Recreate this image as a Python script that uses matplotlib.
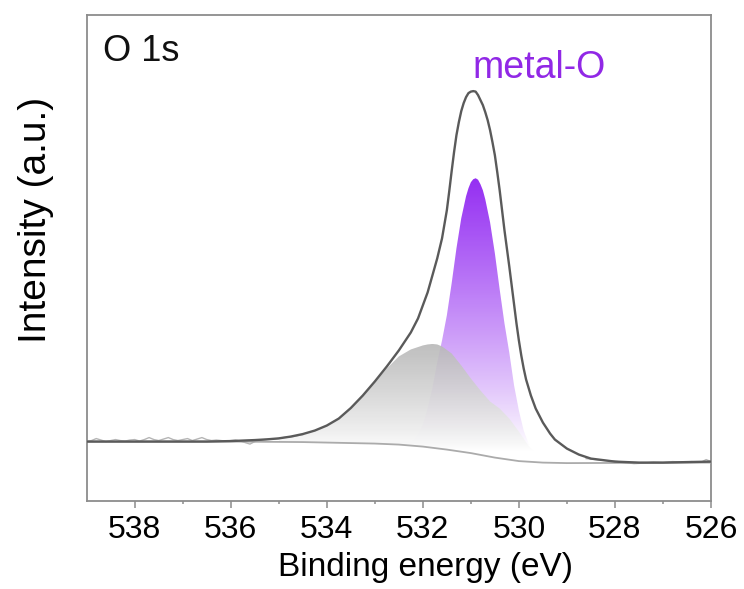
import numpy as np
import matplotlib
matplotlib.use('Agg')
import matplotlib.pyplot as plt
from matplotlib.colors import LinearSegmentedColormap

plt.rcParams['font.family'] = ['Liberation Sans', 'DejaVu Sans']

# fitted envelope
env_E = [539.0, 538.5, 538.0, 537.5, 537.0, 536.5, 536.0, 535.5, 535.25, 535.0,
         534.75, 534.5, 534.25, 534.0, 533.75, 533.5, 533.25, 533.0, 532.75, 532.5,
         532.25, 532.1, 532.0, 531.9, 531.8, 531.7, 531.6, 531.5, 531.45, 531.4,
         531.35, 531.3, 531.25, 531.2, 531.15, 531.1, 531.05, 531.0, 530.95, 530.9,
         530.85, 530.8, 530.75, 530.7, 530.65, 530.6, 530.55, 530.5, 530.45, 530.4,
         530.35, 530.3, 530.25, 530.2, 530.15, 530.1, 530.05, 530.0, 529.95, 529.9,
         529.85, 529.75, 529.65, 529.5, 529.35, 529.25, 529.0, 528.75, 528.5, 528.0,
         527.5, 527.0, 526.5, 526.0]
env_I = [59, 59, 59, 59, 59, 59, 59.5, 60.5, 61.2, 62.2,
         64, 66.5, 70, 75, 82, 92.5, 105, 119, 134, 150,
         168, 182, 195, 208, 225, 242, 262, 290, 309, 329,
         348, 365, 378, 389, 397, 403, 407, 408.5, 409, 408.5,
         405, 400, 395, 388, 380, 370, 358, 345, 328, 310,
         290, 270, 252, 234, 215, 196, 177, 160, 145, 132,
         121, 105, 92, 78, 67, 61, 52, 46, 42, 39,
         38, 38, 38.5, 39]

# metal-O component
mo_E = [532.3, 532.2, 532.1, 532.0, 531.9, 531.8, 531.7, 531.6, 531.5, 531.4,
        531.3, 531.2, 531.1, 531.05, 531.0, 530.95, 530.9, 530.85, 530.8, 530.75,
        530.7, 530.6, 530.5, 530.4, 530.3, 530.2, 530.1, 530.0, 529.9, 529.8,
        529.7, 529.6, 529.5]
mo_I = [56, 60, 66, 76, 92, 113, 138, 160, 185, 217,
        252, 282, 304, 312, 318, 321, 322, 320.5, 316, 310,
        301, 278, 247, 211, 177, 148, 115, 90, 70, 57,
        49, 44, 41]

# second O component
oh_E = [535.0, 534.5, 534.0, 533.75, 533.5, 533.25, 533.0, 532.75, 532.5, 532.25,
        532.0, 531.9, 531.8, 531.7, 531.6, 531.4, 531.2, 531.0, 530.8, 530.6,
        530.4, 530.2, 530.0, 529.8, 529.6, 529.4, 529.2]
oh_I = [61, 66, 74.5, 81.5, 91.5, 104, 118, 132, 144, 151,
        155, 156, 156.5, 156, 154, 147, 135, 122, 110, 99,
        92, 82, 69, 55, 44, 40, 38]

# Shirley background
bg_E = [539.0, 536.0, 534.5, 534.0, 533.5, 533.0, 532.5, 532.0, 531.5, 531.0,
        530.5, 530.0, 529.5, 529.0, 526.0]
bg_I = [59, 59, 58.5, 58, 57.5, 57, 56, 54, 51, 47.5,
        43, 39.5, 38, 37.5, 38]

# raw spectrum, flat parts on both sides of the peak
raw_l_E = [539.0, 538.9, 538.8, 538.7, 538.6, 538.5, 538.4, 538.3, 538.2, 538.1,
           538.0, 537.9, 537.8, 537.7, 537.6, 537.5, 537.4, 537.3, 537.2, 537.1,
           537.0, 536.9, 536.8, 536.7, 536.6, 536.5, 536.4, 536.3, 536.2, 536.1,
           536.0, 535.9, 535.8, 535.7, 535.6, 535.5, 535.4, 535.3, 535.2, 535.1,
           535.0, 534.9, 534.8, 534.7, 534.6, 534.5]
raw_l_I = [59, 60, 62, 60.5, 59, 60, 61, 60, 59.5, 60.5,
           61, 59.5, 61, 63, 61, 60, 61.5, 63, 61, 60,
           61, 62, 60, 61.5, 63, 61, 60, 60.5, 60, 59.5,
           60, 60.5, 59.5, 58, 56.5, 59, 60, 61, 61.5, 61.5,
           62, 63, 63.5, 64, 65, 66]
raw_r_E = [528.6, 528.4, 528.2, 528.0, 527.8, 527.6, 527.4, 527.2, 527.0, 526.8,
           526.6, 526.4, 526.2, 526.1, 526.0]
raw_r_I = [42, 41, 40, 39.5, 38, 37, 37.5, 38.5, 38, 39,
           38.5, 39, 38.5, 41, 39]


def gradient_fill(ax, x, y, base, top_color, alpha=1.0, zorder=1):
    x = np.asarray(x, float)
    y = np.asarray(y, float)
    b = np.interp(x[::-1], np.asarray(bg_E[::-1]), np.asarray(bg_I[::-1]))[::-1]
    poly = ax.fill_between(x, b, y, facecolor='none', edgecolor='none')
    cmap = LinearSegmentedColormap.from_list('g', ['white', top_color])
    grad = np.linspace(0, 1, 256).reshape(-1, 1) ** 0.85
    im = ax.imshow(grad, cmap=cmap, origin='lower', aspect='auto',
                   extent=(x.min(), x.max(), base, y.max()),
                   alpha=alpha, zorder=zorder, interpolation='bilinear')
    im.set_clip_path(poly.get_paths()[0], transform=ax.transData)


fig = plt.figure(figsize=(7.44, 5.89), dpi=100)
ax = fig.add_axes([0.1165, 0.150, 0.8391, 0.8245])

gradient_fill(ax, mo_E, mo_I, 55, '#9530f2', zorder=1)
gradient_fill(ax, oh_E, oh_I, 50, '#b8b8b8', alpha=0.9, zorder=2)

ax.plot(raw_l_E, raw_l_I, color='#b5b5b5', lw=1.0, zorder=3)
ax.plot(raw_r_E, raw_r_I, color='#b5b5b5', lw=1.0, zorder=3)
ax.plot(bg_E, bg_I, color='#ababab', lw=1.3, zorder=3)
ax.plot(env_E, env_I, color='#5a5a5a', lw=1.7, zorder=4)

ax.set_xlim(539, 526)
ax.set_ylim(0, 485)
ax.set_xticks([538, 536, 534, 532, 530, 528, 526])
ax.set_xticks(np.arange(537, 526, -2), minor=True)
ax.set_yticks([])

for s in ax.spines.values():
    s.set_color('#8c8c8c')
    s.set_linewidth(1.3)
ax.tick_params(axis='x', which='major', direction='out', length=5, width=1.1,
               color='#8c8c8c', labelsize=23, pad=5)
ax.tick_params(axis='x', which='minor', direction='out', length=2.5, width=1.1,
               color='#8c8c8c')

ax.set_xlabel('Binding energy (eV)', fontsize=24)
ax.xaxis.set_label_coords(0.5435, -0.105)
ax.set_ylabel('Intensity (a.u.)', fontsize=28)
ax.yaxis.set_label_coords(-0.052, 0.578)

ax.text(0.026, 0.925, 'O 1s', transform=ax.transAxes, fontsize=26,
        va='center', ha='left', color='#111111')
ax.text(529.57, 432, 'metal-O', fontsize=27, color='#9128e6',
        va='center', ha='center')

fig.savefig('out.png', dpi=100)
